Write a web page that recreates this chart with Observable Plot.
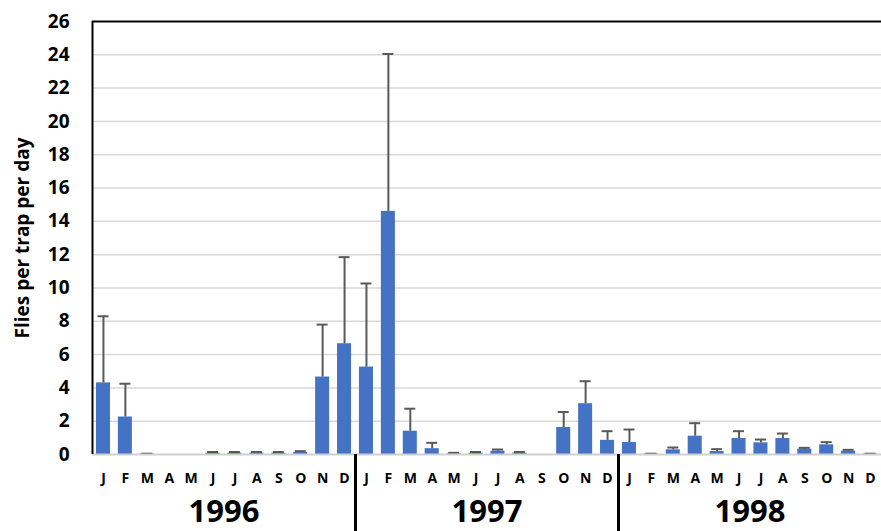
<!DOCTYPE html>
<html><head><meta charset="utf-8">
<script src="https://cdn.jsdelivr.net/npm/d3@7"></script>
<script src="https://cdn.jsdelivr.net/npm/@observablehq/plot@0.6"></script>
<style>body{margin:0;background:#fff}</style>
</head><body><div id="chart"></div>
<script>
const years = [1996, 1997, 1998];
const monthLabels = ["J","F","M","A","M","J","J","A","S","O","N","D"];
const mean1996  = [4.3, 2.25, 0.03, 0, 0, 0.08, 0.08, 0.08, 0.08, 0.12, 4.65, 6.65];
const upper1996 = [8.3, 4.25, 0.05, 0, 0, 0.15, 0.15, 0.15, 0.15, 0.2, 7.8, 11.85];
const mean1997  = [5.25, 14.6, 1.4, 0.35, 0.04, 0.08, 0.2, 0.08, 0, 1.62, 3.05, 0.85];
const upper1997 = [10.27, 24.05, 2.75, 0.7, 0.1, 0.15, 0.3, 0.15, 0, 2.55, 4.4, 1.4];
const mean1998  = [0.72, 0.03, 0.28, 1.1, 0.18, 0.96, 0.7, 0.96, 0.32, 0.58, 0.2, 0.03];
const upper1998 = [1.5, 0.05, 0.42, 1.88, 0.32, 1.4, 0.9, 1.26, 0.4, 0.74, 0.28, 0.05];
const yTicks = [0,2,4,6,8,10,12,14,16,18,20,22,24,26];

const means = [mean1996, mean1997, mean1998];
const uppers = [upper1996, upper1997, upper1998];
const data = [];
years.forEach((yr, k) => monthLabels.forEach((m, j) => {
  data.push({i: k*12 + j, year: yr, month: m, mean: means[k][j], upper: uppers[k][j]});
}));
const BAR_PAD = 0.18, CAP_HALF = 0.25;
const yMax = yTicks[yTicks.length - 1];

const chart = Plot.plot({
  width: 881, height: 531,
  marginLeft: 92, marginRight: 0, marginTop: 21, marginBottom: 77,
  x: {domain: [0, data.length]},
  y: {domain: [0, yMax]},
  style: {fontFamily: "'Open Sans', sans-serif", background: "#fff", color: "#000"},
  marks: [
    Plot.ruleY(yTicks.filter(t => t > 0 && t < yMax), {stroke: "#d9d9d9", strokeWidth: 1.5}),
    Plot.rectY(data, {x1: d => d.i + BAR_PAD, x2: d => d.i + 1 - BAR_PAD, y: "mean", fill: "#4472c4"}),
    Plot.ruleX(data.filter(d => d.upper > d.mean), {x: d => d.i + 0.5, y1: "mean", y2: "upper", stroke: "#595959", strokeWidth: 2}),
    Plot.ruleY(data.filter(d => d.upper > 0), {x1: d => d.i + 0.5 - CAP_HALF, x2: d => d.i + 0.5 + CAP_HALF, y: "upper", stroke: "#595959", strokeWidth: 2}),
    Plot.ruleY([0], {stroke: "#d0d0d0", strokeWidth: 2}),
    Plot.ruleY([yMax], {stroke: "#000", strokeWidth: 2}),
    Plot.ruleX([0], {stroke: "#000", strokeWidth: 2}),
    Plot.axisY(yTicks, {tickSize: 0, tickPadding: 23, fontSize: 19, fontWeight: "bold",
      label: "Flies per trap per day", labelAnchor: "center", labelArrow: "none", labelOffset: 77,
      labelFontSize: 16.5}),
    Plot.axisX(data.map(d => d.i + 0.5), {tickFormat: v => monthLabels[Math.floor(v) % 12],
      tickSize: 0, tickPadding: 19, fontSize: 14, fontWeight: "bold", label: null}),
    Plot.axisX(years.map((y, k) => k*12 + 6), {tickFormat: v => String(years[Math.floor(v / 12)]),
      tickSize: 0, tickPadding: 45, fontSize: 31, fontWeight: "bold", label: null}),
    Plot.axisX(years.slice(1).map((y, k) => (k + 1) * 12), {tickFormat: () => "",
      tickSize: 77, stroke: "#000", strokeWidth: 3, label: null})
  ]
});
document.getElementById("chart").append(chart);
</script>
</body></html>
